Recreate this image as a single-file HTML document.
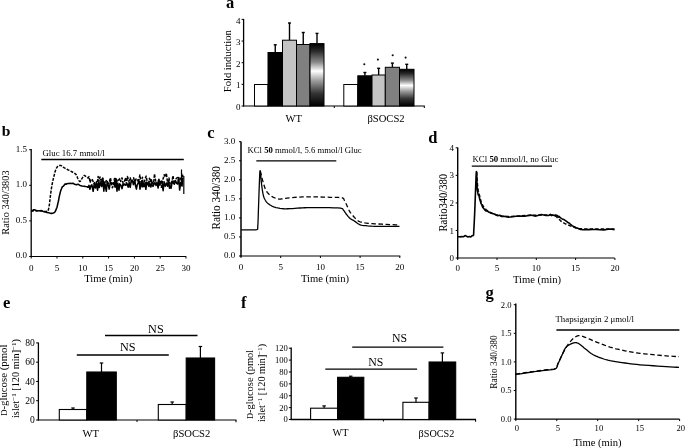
<!DOCTYPE html>
<html><head><meta charset="utf-8"><style>
html,body{margin:0;padding:0;background:#fff;}
svg{display:block;filter:grayscale(1) blur(0.3px);}
text{font-family:"Liberation Serif",serif;fill:#000;}
</style></head><body>
<svg width="685" height="448" viewBox="0 0 685 448">
<defs>
<linearGradient id="grad" x1="0" y1="0" x2="0" y2="1">
<stop offset="0" stop-color="#000"/>
<stop offset="0.12" stop-color="#2a2a2a"/>
<stop offset="0.3" stop-color="#8a8a8a"/>
<stop offset="0.44" stop-color="#fff"/>
<stop offset="0.6" stop-color="#9a9a9a"/>
<stop offset="0.8" stop-color="#333"/>
<stop offset="1" stop-color="#000"/>
</linearGradient>
</defs>
<rect width="685" height="448" fill="#fff"/>
<text x="226" y="7.6" font-size="16.5" text-anchor="start" font-weight="bold">a</text>
<line x1="243.6" y1="18.9" x2="243.6" y2="106.5" stroke="#000" stroke-width="1.3"/>
<line x1="243.1" y1="106.0" x2="424.8" y2="106.0" stroke="#000" stroke-width="1.2"/>
<line x1="241.6" y1="106.0" x2="243.6" y2="106.0" stroke="#000" stroke-width="1"/>
<text x="240.6" y="110.1" font-size="9" text-anchor="end">0</text>
<line x1="241.6" y1="84.35" x2="243.6" y2="84.35" stroke="#000" stroke-width="1"/>
<text x="240.6" y="88.44999999999999" font-size="9" text-anchor="end">1</text>
<line x1="241.6" y1="62.7" x2="243.6" y2="62.7" stroke="#000" stroke-width="1"/>
<text x="240.6" y="66.8" font-size="9" text-anchor="end">2</text>
<line x1="241.6" y1="41.05000000000001" x2="243.6" y2="41.05000000000001" stroke="#000" stroke-width="1"/>
<text x="240.6" y="45.15000000000001" font-size="9" text-anchor="end">3</text>
<line x1="241.6" y1="19.400000000000006" x2="243.6" y2="19.400000000000006" stroke="#000" stroke-width="1"/>
<text x="240.6" y="23.500000000000007" font-size="9" text-anchor="end">4</text>
<line x1="334.3" y1="106.0" x2="334.3" y2="108.0" stroke="#000" stroke-width="1"/>
<line x1="424.3" y1="106.0" x2="424.3" y2="108.0" stroke="#000" stroke-width="1"/>
<text x="231.5" y="61.2" font-size="10.6" text-anchor="middle" transform="rotate(-90 231.5 61.2)">Fold induction</text>
<line x1="275.25" y1="52.5" x2="275.25" y2="44.8" stroke="#000" stroke-width="1.4"/>
<line x1="273.75" y1="44.8" x2="276.75" y2="44.8" stroke="#000" stroke-width="1.4"/>
<line x1="289.5" y1="40.2" x2="289.5" y2="23.0" stroke="#000" stroke-width="1.4"/>
<line x1="288.0" y1="23.0" x2="291.0" y2="23.0" stroke="#000" stroke-width="1.4"/>
<line x1="303.25" y1="44.5" x2="303.25" y2="32.5" stroke="#000" stroke-width="1.4"/>
<line x1="301.75" y1="32.5" x2="304.75" y2="32.5" stroke="#000" stroke-width="1.4"/>
<line x1="317.0" y1="43.6" x2="317.0" y2="33.4" stroke="#000" stroke-width="1.4"/>
<line x1="315.5" y1="33.4" x2="318.5" y2="33.4" stroke="#000" stroke-width="1.4"/>
<line x1="364.9" y1="75.8" x2="364.9" y2="72.5" stroke="#000" stroke-width="1.4"/>
<line x1="363.4" y1="72.5" x2="366.4" y2="72.5" stroke="#000" stroke-width="1.4"/>
<line x1="378.65" y1="75" x2="378.65" y2="68.3" stroke="#000" stroke-width="1.4"/>
<line x1="377.15" y1="68.3" x2="380.15" y2="68.3" stroke="#000" stroke-width="1.4"/>
<line x1="392.4" y1="67.3" x2="392.4" y2="63.1" stroke="#000" stroke-width="1.4"/>
<line x1="390.9" y1="63.1" x2="393.9" y2="63.1" stroke="#000" stroke-width="1.4"/>
<line x1="406.75" y1="69.3" x2="406.75" y2="64.3" stroke="#000" stroke-width="1.4"/>
<line x1="405.25" y1="64.3" x2="408.25" y2="64.3" stroke="#000" stroke-width="1.4"/>
<rect x="254.5" y="84.5" width="13.5" height="21.5" fill="#fff" stroke="#000" stroke-width="1.0"/>
<rect x="268" y="52.5" width="14.5" height="53.5" fill="#000" stroke="#000" stroke-width="1.0"/>
<rect x="282.5" y="40.2" width="14.0" height="65.8" fill="#c4c4c4" stroke="#000" stroke-width="1.0"/>
<rect x="296.5" y="44.5" width="13.5" height="61.5" fill="#808080" stroke="#000" stroke-width="1.0"/>
<rect x="310" y="43.6" width="14" height="62.4" fill="url(#grad)" stroke="#000" stroke-width="1.0"/>
<rect x="343.8" y="84.5" width="14.0" height="21.5" fill="#fff" stroke="#000" stroke-width="1.0"/>
<rect x="357.8" y="75.8" width="14.199999999999989" height="30.200000000000003" fill="#000" stroke="#000" stroke-width="1.0"/>
<rect x="372" y="75" width="13.300000000000011" height="31.0" fill="#c4c4c4" stroke="#000" stroke-width="1.0"/>
<rect x="385.3" y="67.3" width="14.199999999999989" height="38.7" fill="#808080" stroke="#000" stroke-width="1.0"/>
<rect x="399.5" y="69.3" width="14.5" height="36.7" fill="url(#grad)" stroke="#000" stroke-width="1.0"/>
<circle cx="364.3" cy="64.3" r="1.05" fill="#111"/>
<circle cx="377.9" cy="59.6" r="1.05" fill="#111"/>
<circle cx="392.7" cy="55.3" r="1.05" fill="#111"/>
<circle cx="405.6" cy="57.6" r="1.05" fill="#111"/>
<text x="293.7" y="122.3" font-size="10.6" text-anchor="middle">WT</text>
<text x="386" y="122.3" font-size="10.6" text-anchor="middle">&#946;SOCS2</text>
<text x="1.7" y="135.5" font-size="15.5" text-anchor="start" font-weight="bold">b</text>
<line x1="31.2" y1="149.0" x2="31.2" y2="257.0" stroke="#000" stroke-width="1.3"/>
<line x1="30.7" y1="256.5" x2="186.2" y2="256.5" stroke="#000" stroke-width="1.1"/>
<line x1="29.2" y1="256.5" x2="31.2" y2="256.5" stroke="#000" stroke-width="1"/>
<text x="27" y="258.4" font-size="9" text-anchor="end">0.0</text>
<line x1="29.2" y1="220.9" x2="31.2" y2="220.9" stroke="#000" stroke-width="1"/>
<text x="27" y="222.8" font-size="9" text-anchor="end">0.5</text>
<line x1="29.2" y1="185.3" x2="31.2" y2="185.3" stroke="#000" stroke-width="1"/>
<text x="27" y="187.20000000000002" font-size="9" text-anchor="end">1.0</text>
<line x1="29.2" y1="149.7" x2="31.2" y2="149.7" stroke="#000" stroke-width="1"/>
<text x="27" y="151.6" font-size="9" text-anchor="end">1.5</text>
<line x1="31.2" y1="256.5" x2="31.2" y2="258.5" stroke="#000" stroke-width="1"/>
<text x="31.2" y="270.6" font-size="9" text-anchor="middle">0</text>
<line x1="57.0" y1="256.5" x2="57.0" y2="258.5" stroke="#000" stroke-width="1"/>
<text x="57.0" y="270.6" font-size="9" text-anchor="middle">5</text>
<line x1="82.8" y1="256.5" x2="82.8" y2="258.5" stroke="#000" stroke-width="1"/>
<text x="82.8" y="270.6" font-size="9" text-anchor="middle">10</text>
<line x1="108.60000000000001" y1="256.5" x2="108.60000000000001" y2="258.5" stroke="#000" stroke-width="1"/>
<text x="108.60000000000001" y="270.6" font-size="9" text-anchor="middle">15</text>
<line x1="134.4" y1="256.5" x2="134.4" y2="258.5" stroke="#000" stroke-width="1"/>
<text x="134.4" y="270.6" font-size="9" text-anchor="middle">20</text>
<line x1="160.2" y1="256.5" x2="160.2" y2="258.5" stroke="#000" stroke-width="1"/>
<text x="160.2" y="270.6" font-size="9" text-anchor="middle">25</text>
<line x1="186.0" y1="256.5" x2="186.0" y2="258.5" stroke="#000" stroke-width="1"/>
<text x="186.0" y="270.6" font-size="9" text-anchor="middle">30</text>
<text x="108.3" y="282.1" font-size="10.6" text-anchor="middle">Time (min)</text>
<text x="8.5" y="202.5" font-size="10.4" text-anchor="middle" transform="rotate(-90 8.5 202.5)">Ratio 340/3803</text>
<text x="42.5" y="155.6" font-size="8.8" text-anchor="start">Gluc 16.7 mmol/l</text>
<line x1="41.3" y1="159.5" x2="183.8" y2="159.5" stroke="#000" stroke-width="1.3"/>
<polyline points="31.00,211.35 32.00,211.18 33.44,209.89 35.00,209.80 36.63,210.72 38.37,210.71 40.00,210.80 41.44,210.62 42.78,211.29 44.00,211.63 45.04,211.98 45.96,211.88 47.00,212.52 48.28,212.62 49.67,213.07 51.00,213.39 52.26,213.39 53.46,212.91 54.50,212.43 55.30,211.38 55.93,209.91 56.50,208.43 57.04,207.20 57.52,204.99 58.00,202.86 58.48,201.04 58.96,198.01 59.50,195.57 60.13,192.83 60.81,190.34 61.50,188.79 62.15,187.11 62.80,186.43 63.50,186.10 64.28,184.98 65.11,183.85 66.00,184.27 66.93,183.78 67.91,183.43 69.00,183.49 70.22,183.33 71.56,183.51 73.00,183.22 74.56,184.30 76.22,184.70 78.00,184.19 80.00,185.45 82.11,185.98 84.00,186.15 85.63,186.53 87.04,186.67 88.00,187.31 89.00,185.32 89.92,189.24 91.00,185.48 91.85,184.74 93.15,191.31 94.23,183.74 95.31,187.72 96.46,181.86 97.56,190.17 98.62,182.64 99.34,187.43 100.47,181.99 101.69,186.56 102.87,178.33 103.84,191.24 104.60,182.06 105.38,186.62 106.34,191.29 107.22,181.43 108.13,184.92 109.18,189.00 110.40,181.83 111.69,183.76 112.97,182.93 114.01,184.17 115.06,186.97 115.80,178.42 116.98,191.16 117.77,183.07 118.99,190.24 119.72,183.86 120.85,185.30 122.08,188.61 122.96,184.10 123.71,185.28 124.65,184.07 125.72,185.12 126.94,183.71 128.22,187.17 129.19,182.52 130.20,187.34 131.28,180.90 132.54,180.87 133.38,184.63 134.67,180.20 135.38,185.01 136.42,189.10 137.16,185.01 138.14,183.05 139.26,181.53 139.98,189.13 141.26,182.48 142.23,186.86 143.12,182.71 144.04,186.71 145.20,182.70 145.92,189.34 146.75,181.97 147.93,184.45 148.89,186.47 149.66,182.93 150.86,187.01 151.82,182.97 152.91,182.60 153.88,184.49 154.90,182.50 156.08,185.34 156.95,182.35 158.13,188.04 158.91,179.37 159.79,184.89 160.69,181.54 161.64,181.07 162.44,185.80 163.14,190.61 164.10,181.66 165.37,186.25 166.52,183.01 167.72,186.19 168.63,180.53 169.46,188.16 170.33,185.90 171.06,188.32 172.30,181.02 173.54,183.50 174.34,184.23 175.44,180.49 176.70,183.40 177.61,184.04 178.78,177.42 179.60,190.03 180.77,182.55 182.02,186.07 182.73,177.93" fill="none" stroke="#000" stroke-width="1.55" stroke-linejoin="round"/>
<polyline points="31.00,210.60 32.66,210.63 35.06,210.68 37.68,210.73 40.00,210.80 42.01,210.99 43.94,211.28 45.65,211.42 47.00,211.20 47.86,210.66 48.34,209.87 48.65,208.71 49.00,207.00 49.41,204.50 49.78,201.36 50.14,198.04 50.50,195.00 50.86,192.34 51.22,189.81 51.59,187.38 52.00,185.00 52.46,182.63 52.97,180.31 53.49,178.09 54.00,176.00 54.49,174.02 54.97,172.14 55.46,170.44 56.00,169.00 56.59,167.86 57.22,166.97 57.86,166.30 58.50,165.80 59.11,165.49 59.72,165.38 60.34,165.43 61.00,165.60 61.69,165.94 62.41,166.45 63.17,167.03 64.00,167.60 64.91,168.13 65.88,168.66 66.91,169.22 68.00,169.80 69.23,170.43 70.56,171.11 71.87,171.78 73.00,172.40 73.91,172.91 74.69,173.34 75.37,173.83 76.00,174.50 76.57,175.46 77.06,176.61 77.52,177.79 78.00,178.80 78.50,179.72 79.00,180.61 79.50,181.26 80.00,181.50 80.50,181.15 81.00,180.36 81.50,179.38 82.00,178.50 82.50,177.66 83.00,176.75 83.50,175.97 84.00,175.50 84.50,175.46 85.00,175.72 85.50,176.12 86.00,176.50 86.55,176.88 87.12,177.31 87.64,177.72 88.00,178.00 89.00,176.59 90.13,182.35 91.28,179.01 92.44,179.77 93.79,183.49 94.66,182.65 95.94,187.93 97.20,183.58 98.11,176.51 99.04,181.31 100.01,176.94 101.40,181.63 102.57,178.17 103.83,184.12 104.83,187.84 106.12,180.65 107.14,181.20 107.99,183.76 109.07,182.83 110.46,177.86 111.26,182.76 112.39,187.77 113.47,185.30 114.46,178.50 115.49,186.65 116.38,179.37 117.35,181.74 118.71,179.95 119.90,178.48 120.79,181.44 122.04,177.87 123.03,183.17 124.51,181.65 125.46,177.74 126.53,183.77 127.40,176.53 128.90,181.24 130.24,177.88 131.24,181.98 132.45,179.87 133.67,177.81 134.81,183.40 136.01,179.00 137.45,178.81 138.42,182.69 139.88,175.00 141.35,184.09 142.44,177.16 143.31,187.46 144.28,182.67 145.26,178.27 146.18,176.09 147.03,181.04 148.43,184.97 149.43,178.28 150.41,181.59 151.26,178.83 152.15,183.46 153.20,187.36 154.49,173.95 155.69,180.94 156.51,181.07 157.80,181.04 158.94,180.13 160.25,186.08 161.43,187.28 162.86,179.81 164.21,174.65 165.26,177.17 166.35,173.23 167.76,184.74 168.97,177.97 170.19,184.69 171.69,182.66 173.00,175.68 174.20,183.93 175.31,180.93 176.13,178.85 177.35,177.53 178.50,180.42 179.73,177.66 180.74,178.76 181.68,183.86 182.95,173.21" fill="none" stroke="#000" stroke-width="1.5" stroke-linejoin="round" stroke-dasharray="3,1.3"/>
<line x1="181.5" y1="169.5" x2="181.5" y2="186" stroke="#000" stroke-width="1.2"/>
<line x1="183.8" y1="176" x2="183.8" y2="194" stroke="#000" stroke-width="1.2"/>
<text x="207.2" y="138.1" font-size="16.5" text-anchor="start" font-weight="bold">c</text>
<line x1="241.0" y1="141.5" x2="241.0" y2="256.5" stroke="#000" stroke-width="1.5"/>
<line x1="240.5" y1="256.0" x2="400.3" y2="256.0" stroke="#000" stroke-width="1.0"/>
<line x1="239.0" y1="256.0" x2="241.0" y2="256.0" stroke="#000" stroke-width="1"/>
<text x="235.3" y="258.2" font-size="9" text-anchor="end">0.0</text>
<line x1="239.0" y1="236.95" x2="241.0" y2="236.95" stroke="#000" stroke-width="1"/>
<text x="235.3" y="239.14999999999998" font-size="9" text-anchor="end">0.5</text>
<line x1="239.0" y1="217.9" x2="241.0" y2="217.9" stroke="#000" stroke-width="1"/>
<text x="235.3" y="220.1" font-size="9" text-anchor="end">1.0</text>
<line x1="239.0" y1="198.85" x2="241.0" y2="198.85" stroke="#000" stroke-width="1"/>
<text x="235.3" y="201.04999999999998" font-size="9" text-anchor="end">1.5</text>
<line x1="239.0" y1="179.8" x2="241.0" y2="179.8" stroke="#000" stroke-width="1"/>
<text x="235.3" y="182.0" font-size="9" text-anchor="end">2.0</text>
<line x1="239.0" y1="160.75" x2="241.0" y2="160.75" stroke="#000" stroke-width="1"/>
<text x="235.3" y="162.95" font-size="9" text-anchor="end">2.5</text>
<line x1="239.0" y1="141.7" x2="241.0" y2="141.7" stroke="#000" stroke-width="1"/>
<text x="235.3" y="143.89999999999998" font-size="9" text-anchor="end">3.0</text>
<line x1="241.0" y1="256.0" x2="241.0" y2="258.0" stroke="#000" stroke-width="1"/>
<text x="241.0" y="269.6" font-size="9" text-anchor="middle">0</text>
<line x1="280.7" y1="256.0" x2="280.7" y2="258.0" stroke="#000" stroke-width="1"/>
<text x="280.7" y="269.6" font-size="9" text-anchor="middle">5</text>
<line x1="320.4" y1="256.0" x2="320.4" y2="258.0" stroke="#000" stroke-width="1"/>
<text x="320.4" y="269.6" font-size="9" text-anchor="middle">10</text>
<line x1="360.1" y1="256.0" x2="360.1" y2="258.0" stroke="#000" stroke-width="1"/>
<text x="360.1" y="269.6" font-size="9" text-anchor="middle">15</text>
<line x1="399.8" y1="256.0" x2="399.8" y2="258.0" stroke="#000" stroke-width="1"/>
<text x="399.8" y="269.6" font-size="9" text-anchor="middle">20</text>
<text x="325" y="282.3" font-size="10.6" text-anchor="middle">Time (min)</text>
<text x="220.4" y="197.8" font-size="12.6" text-anchor="middle" transform="rotate(-90 220.4 197.8)" textLength="63.3" lengthAdjust="spacingAndGlyphs">Ratio 340/380</text>
<text x="247.5" y="153.2" font-size="8.7" text-anchor="start">KCl <tspan font-weight="bold">50</tspan> mmol/l, 5.6 mmol/l Gluc</text>
<line x1="256.3" y1="160.9" x2="336.3" y2="160.9" stroke="#000" stroke-width="1.3"/>
<polyline points="241.20,229.90 242.83,229.88 245.17,229.86 247.73,229.83 250.00,229.80 251.98,229.84 253.89,229.92 255.55,229.89 256.80,229.60 257.46,229.35 257.68,229.10 257.70,228.20 257.80,226.00 258.02,221.95 258.22,216.53 258.41,210.59 258.60,205.00 258.78,199.79 258.96,194.58 259.13,189.57 259.30,185.00 259.47,180.59 259.64,176.32 259.82,172.85 260.00,170.80 260.19,170.64 260.39,171.93 260.59,173.95 260.80,176.00 261.00,178.04 261.19,180.39 261.42,182.90 261.70,185.40 262.06,188.02 262.47,190.78 262.93,193.40 263.40,195.60 263.89,197.25 264.42,198.52 264.96,199.55 265.50,200.50 266.02,201.34 266.52,202.01 267.07,202.60 267.70,203.20 268.45,203.82 269.27,204.42 270.14,204.98 271.00,205.50 271.74,205.95 272.43,206.35 273.25,206.72 274.40,207.10 276.00,207.51 277.91,207.94 279.97,208.33 282.00,208.60 283.92,208.74 285.85,208.79 287.85,208.76 290.00,208.70 292.36,208.57 294.88,208.38 297.45,208.17 300.00,208.00 302.38,207.87 304.69,207.76 307.15,207.66 310.00,207.60 313.38,207.56 317.15,207.54 321.09,207.55 325.00,207.60 329.16,207.68 333.56,207.78 337.59,207.94 340.60,208.20 342.20,208.54 342.80,208.94 343.00,209.45 343.40,210.10 344.07,210.92 344.73,211.89 345.42,212.94 346.20,214.00 347.10,215.14 348.08,216.36 349.10,217.52 350.10,218.50 351.04,219.17 351.94,219.64 352.91,220.08 354.00,220.70 355.27,221.62 356.66,222.72 358.12,223.78 359.60,224.60 361.02,225.08 362.44,225.36 363.97,225.53 365.70,225.70 367.58,225.90 369.57,226.06 371.85,226.20 374.60,226.30 378.13,226.36 382.26,226.39 386.41,226.40 390.00,226.40 393.01,226.39 395.71,226.36 397.93,226.32 399.50,226.30" fill="none" stroke="#000" stroke-width="1.3" stroke-linejoin="round"/>
<polyline points="260.30,171.00 260.47,171.69 260.72,172.67 261.01,173.81 261.30,175.00 261.60,176.23 261.91,177.56 262.25,178.93 262.60,180.30 262.97,181.68 263.37,183.09 263.78,184.48 264.20,185.80 264.61,187.06 265.02,188.28 265.47,189.43 266.00,190.50 266.62,191.49 267.32,192.39 268.06,193.23 268.80,194.00 269.55,194.70 270.33,195.32 271.12,195.88 271.90,196.40 272.66,196.87 273.41,197.29 274.18,197.66 275.00,198.00 275.87,198.32 276.77,198.61 277.72,198.85 278.70,199.00 279.74,199.05 280.82,199.01 281.92,198.91 283.00,198.80 283.92,198.66 284.74,198.49 285.74,198.30 287.20,198.10 289.30,197.88 291.84,197.63 294.59,197.39 297.30,197.20 299.90,197.05 302.53,196.93 305.22,196.85 308.00,196.80 310.89,196.80 313.86,196.85 316.90,196.92 320.00,197.00 323.27,197.09 326.67,197.19 329.99,197.30 333.00,197.40 335.75,197.44 338.33,197.45 340.56,197.53 342.30,197.80 343.35,198.29 343.84,198.94 344.12,199.72 344.50,200.60 345.04,201.57 345.56,202.64 346.11,203.82 346.70,205.10 347.33,206.54 347.99,208.12 348.71,209.71 349.50,211.20 350.38,212.55 351.34,213.83 352.36,215.05 353.40,216.25 354.48,217.47 355.61,218.68 356.76,219.79 357.90,220.70 359.00,221.34 360.08,221.77 361.20,222.10 362.40,222.40 363.70,222.69 365.07,222.93 366.50,223.12 368.00,223.30 369.37,223.45 370.69,223.56 372.31,223.66 374.60,223.80 377.97,223.99 382.12,224.21 386.36,224.43 390.00,224.60 393.01,224.72 395.71,224.80 397.93,224.86 399.50,224.90" fill="none" stroke="#000" stroke-width="1.3" stroke-linejoin="round" stroke-dasharray="4.5,2.6"/>
<text x="428.3" y="142.8" font-size="16.5" text-anchor="start" font-weight="bold">d</text>
<line x1="457.7" y1="147.5" x2="457.7" y2="258.5" stroke="#000" stroke-width="1.4"/>
<line x1="457.2" y1="258.0" x2="614.8" y2="258.0" stroke="#000" stroke-width="1.0"/>
<line x1="455.7" y1="258.0" x2="457.7" y2="258.0" stroke="#000" stroke-width="1"/>
<text x="454" y="261.1" font-size="9" text-anchor="end">0</text>
<line x1="455.7" y1="230.45" x2="457.7" y2="230.45" stroke="#000" stroke-width="1"/>
<text x="454" y="233.54999999999998" font-size="9" text-anchor="end">1</text>
<line x1="455.7" y1="202.9" x2="457.7" y2="202.9" stroke="#000" stroke-width="1"/>
<text x="454" y="206.0" font-size="9" text-anchor="end">2</text>
<line x1="455.7" y1="175.35" x2="457.7" y2="175.35" stroke="#000" stroke-width="1"/>
<text x="454" y="178.45" font-size="9" text-anchor="end">3</text>
<line x1="455.7" y1="147.8" x2="457.7" y2="147.8" stroke="#000" stroke-width="1"/>
<text x="454" y="150.9" font-size="9" text-anchor="end">4</text>
<line x1="457.7" y1="258.0" x2="457.7" y2="260.0" stroke="#000" stroke-width="1"/>
<text x="457.7" y="270.8" font-size="9" text-anchor="middle">0</text>
<line x1="497.0" y1="258.0" x2="497.0" y2="260.0" stroke="#000" stroke-width="1"/>
<text x="497.0" y="270.8" font-size="9" text-anchor="middle">5</text>
<line x1="536.3" y1="258.0" x2="536.3" y2="260.0" stroke="#000" stroke-width="1"/>
<text x="536.3" y="270.8" font-size="9" text-anchor="middle">10</text>
<line x1="575.6" y1="258.0" x2="575.6" y2="260.0" stroke="#000" stroke-width="1"/>
<text x="575.6" y="270.8" font-size="9" text-anchor="middle">15</text>
<line x1="614.9" y1="258.0" x2="614.9" y2="260.0" stroke="#000" stroke-width="1"/>
<text x="614.9" y="270.8" font-size="9" text-anchor="middle">20</text>
<text x="537" y="282.5" font-size="10.6" text-anchor="middle">Time (min)</text>
<text x="447.3" y="202.7" font-size="12.2" text-anchor="middle" transform="rotate(-90 447.3 202.7)" textLength="57.6" lengthAdjust="spacingAndGlyphs">Ratio340/380</text>
<text x="472.5" y="162.3" font-size="8.8" text-anchor="start">KCl <tspan font-weight="bold">50</tspan> mmol/l, no Gluc</text>
<line x1="471.8" y1="166.2" x2="552" y2="166.2" stroke="#000" stroke-width="1.3"/>
<polyline points="457.40,236.57 458.19,236.70 459.32,236.71 460.64,236.85 462.00,236.54 463.43,236.81 464.98,235.61 466.54,236.26 468.00,236.92 469.40,236.53 470.77,236.92 471.98,235.70 472.90,235.76 473.40,235.04 473.58,235.06 473.65,233.89 473.80,230.32 474.07,225.77 474.37,219.50 474.68,213.12 475.00,205.37 475.35,195.41 475.72,185.77 476.08,175.72 476.40,171.46 476.64,172.06 476.82,177.45 477.02,185.49 477.30,189.59 477.67,191.99 478.09,194.44 478.57,195.35 479.10,196.01 479.67,199.07 480.29,200.87 480.98,203.42 481.80,204.79 482.74,207.44 483.77,208.45 484.93,210.03 486.20,211.05 487.62,211.28 489.18,212.32 490.82,212.90 492.50,213.60 494.17,214.09 495.88,214.89 497.67,215.70 499.60,215.20 501.54,216.48 503.52,216.29 505.79,216.46 508.60,217.25 512.08,216.67 516.06,216.20 520.42,216.13 525.00,216.19 530.21,215.05 535.97,216.10 541.45,214.56 545.80,215.45 548.62,215.55 550.42,214.42 551.71,215.58 553.00,215.11 554.34,215.57 555.48,214.97 556.51,215.27 557.50,215.75 558.40,217.16 559.18,216.46 560.00,217.48 561.00,218.16 562.25,218.90 563.67,219.41 565.15,220.35 566.60,221.41 568.01,222.58 569.44,223.26 570.84,224.71 572.20,225.68 573.51,226.52 574.78,226.75 576.01,227.93 577.20,227.95 578.32,228.53 579.38,229.01 580.43,229.44 581.50,229.30 582.39,229.82 583.14,229.71 584.20,229.65 586.00,229.69 588.82,229.60 592.38,229.48 596.24,229.45 600.00,229.71 603.93,229.84 608.12,229.28 611.88,229.17 614.50,229.69" fill="none" stroke="#000" stroke-width="1.6" stroke-linejoin="round"/>
<polyline points="476.60,172.00 476.80,175.07 477.09,179.53 477.44,184.22 477.80,188.00 478.17,190.45 478.57,192.22 479.01,193.75 479.50,195.50 480.03,197.62 480.59,199.86 481.24,202.04 482.00,204.00 482.88,205.69 483.86,207.20 484.96,208.56 486.20,209.80 487.61,210.91 489.17,211.89 490.82,212.74 492.50,213.50 494.17,214.14 495.88,214.66 497.67,215.10 499.60,215.50 501.54,215.89 503.52,216.24 505.79,216.49 508.60,216.60 512.08,216.49 516.06,216.21 520.42,215.88 525.00,215.60 530.21,215.38 535.97,215.17 541.45,215.00 545.80,214.90 548.65,214.88 550.51,214.93 551.81,215.03 553.00,215.20 554.05,215.43 554.77,215.71 555.36,216.07 556.00,216.50 556.70,217.02 557.36,217.63 558.05,218.30 558.80,219.00 559.60,219.76 560.42,220.59 561.34,221.42 562.40,222.20 563.63,222.91 564.99,223.58 566.46,224.24 568.00,224.90 569.68,225.61 571.48,226.35 573.27,227.04 574.90,227.60 576.28,228.00 577.51,228.29 578.70,228.51 580.00,228.70 581.25,228.86 582.44,228.97 583.92,229.05 586.00,229.10 588.93,229.11 592.47,229.08 596.28,229.03 600.00,229.00 603.93,228.99 608.12,228.99 611.88,229.00 614.50,229.00" fill="none" stroke="#000" stroke-width="1.5" stroke-linejoin="round" stroke-dasharray="3.5,2"/>
<text x="3" y="307.5" font-size="16.5" text-anchor="start" font-weight="bold">e</text>
<line x1="38.4" y1="342.5" x2="38.4" y2="420.5" stroke="#000" stroke-width="1.3"/>
<line x1="37.9" y1="420" x2="236.4" y2="420" stroke="#000" stroke-width="1.2"/>
<line x1="236" y1="420" x2="236" y2="422.3" stroke="#000" stroke-width="1.1"/>
<line x1="36.1" y1="420.0" x2="38.4" y2="420.0" stroke="#000" stroke-width="1"/>
<text x="34.9" y="423.1" font-size="9.6" text-anchor="end">0</text>
<line x1="36.1" y1="400.73" x2="38.4" y2="400.73" stroke="#000" stroke-width="1"/>
<text x="34.9" y="403.83000000000004" font-size="9.6" text-anchor="end">20</text>
<line x1="36.1" y1="381.46" x2="38.4" y2="381.46" stroke="#000" stroke-width="1"/>
<text x="34.9" y="384.56" font-size="9.6" text-anchor="end">40</text>
<line x1="36.1" y1="362.19" x2="38.4" y2="362.19" stroke="#000" stroke-width="1"/>
<text x="34.9" y="365.29" font-size="9.6" text-anchor="end">60</text>
<line x1="36.1" y1="342.92" x2="38.4" y2="342.92" stroke="#000" stroke-width="1"/>
<text x="34.9" y="346.02000000000004" font-size="9.6" text-anchor="end">80</text>
<line x1="137" y1="420" x2="137" y2="422" stroke="#000" stroke-width="1"/>
<text x="7.3" y="380.2" font-size="10.8" text-anchor="middle" transform="rotate(-90 7.3 380.2)"><tspan font-size="0.8em">D</tspan>-glucose (pmol</text>
<text x="19.3" y="378.5" font-size="10.3" text-anchor="middle" transform="rotate(-90 19.3 378.5)">islet<tspan dy="-3.5" font-size="7">&#8722;1</tspan><tspan dy="3.5"> [120 min]</tspan><tspan dy="-3.5" font-size="7">&#8722;1</tspan><tspan dy="3.5">)</tspan></text>
<line x1="73" y1="409.5" x2="73" y2="408" stroke="#000" stroke-width="1.2"/>
<line x1="71.25" y1="408" x2="74.75" y2="408" stroke="#000" stroke-width="1.2"/>
<line x1="101.5" y1="372" x2="101.5" y2="363" stroke="#000" stroke-width="1.2"/>
<line x1="99.75" y1="363" x2="103.25" y2="363" stroke="#000" stroke-width="1.2"/>
<line x1="172.2" y1="404.5" x2="172.2" y2="402" stroke="#000" stroke-width="1.2"/>
<line x1="170.45" y1="402" x2="173.95" y2="402" stroke="#000" stroke-width="1.2"/>
<line x1="200.4" y1="358" x2="200.4" y2="346.5" stroke="#000" stroke-width="1.2"/>
<line x1="198.65" y1="346.5" x2="202.15" y2="346.5" stroke="#000" stroke-width="1.2"/>
<rect x="59.3" y="409.5" width="27.5" height="10.5" fill="#fff" stroke="#000" stroke-width="1.1"/>
<rect x="86.8" y="372" width="29.5" height="48" fill="#000" stroke="#000" stroke-width="1.1"/>
<rect x="158.3" y="404.5" width="27.899999999999977" height="15.5" fill="#fff" stroke="#000" stroke-width="1.1"/>
<rect x="186.2" y="358" width="28.400000000000006" height="62" fill="#000" stroke="#000" stroke-width="1.1"/>
<line x1="76.8" y1="355" x2="168.8" y2="355" stroke="#000" stroke-width="1.3"/>
<line x1="105" y1="335.5" x2="197.5" y2="335.5" stroke="#000" stroke-width="1.3"/>
<text x="127.8" y="351.3" font-size="12.2" text-anchor="middle">NS</text>
<text x="155.9" y="332.5" font-size="12.2" text-anchor="middle">NS</text>
<text x="90.7" y="436.5" font-size="10.6" text-anchor="middle">WT</text>
<text x="191.6" y="437.3" font-size="10.6" text-anchor="middle">&#946;SOCS2</text>
<text x="241" y="307.5" font-size="16.5" text-anchor="start" font-weight="bold">f</text>
<line x1="291.2" y1="347.5" x2="291.2" y2="420.0" stroke="#000" stroke-width="1.3"/>
<line x1="290.7" y1="419.5" x2="476" y2="419.5" stroke="#000" stroke-width="1.3"/>
<line x1="475.6" y1="419.5" x2="475.6" y2="421.8" stroke="#000" stroke-width="1.1"/>
<line x1="288.9" y1="419.5" x2="291.2" y2="419.5" stroke="#000" stroke-width="1"/>
<text x="287.8" y="422.4" font-size="8.6" text-anchor="end">0</text>
<line x1="288.9" y1="407.62" x2="291.2" y2="407.62" stroke="#000" stroke-width="1"/>
<text x="287.8" y="410.52" font-size="8.6" text-anchor="end">20</text>
<line x1="288.9" y1="395.74" x2="291.2" y2="395.74" stroke="#000" stroke-width="1"/>
<text x="287.8" y="398.64" font-size="8.6" text-anchor="end">40</text>
<line x1="288.9" y1="383.86" x2="291.2" y2="383.86" stroke="#000" stroke-width="1"/>
<text x="287.8" y="386.76" font-size="8.6" text-anchor="end">60</text>
<line x1="288.9" y1="371.98" x2="291.2" y2="371.98" stroke="#000" stroke-width="1"/>
<text x="287.8" y="374.88" font-size="8.6" text-anchor="end">80</text>
<line x1="288.9" y1="360.1" x2="291.2" y2="360.1" stroke="#000" stroke-width="1"/>
<text x="287.8" y="363.0" font-size="8.6" text-anchor="end">100</text>
<line x1="288.9" y1="348.22" x2="291.2" y2="348.22" stroke="#000" stroke-width="1"/>
<text x="287.8" y="351.12" font-size="8.6" text-anchor="end">120</text>
<line x1="383.4" y1="419.5" x2="383.4" y2="421.5" stroke="#000" stroke-width="1"/>
<text x="253.3" y="384.4" font-size="10.5" text-anchor="middle" transform="rotate(-90 253.3 384.4)"><tspan font-size="0.8em">D</tspan>-glucose (pmol</text>
<text x="265.4" y="383.0" font-size="10.2" text-anchor="middle" transform="rotate(-90 265.4 383.0)">islet<tspan dy="-3.4" font-size="6.9">&#8722;1</tspan><tspan dy="3.4"> [120 min]</tspan><tspan dy="-3.4" font-size="6.9">&#8722;1</tspan><tspan dy="3.4">)</tspan></text>
<line x1="324.1" y1="408.2" x2="324.1" y2="405.9" stroke="#000" stroke-width="1.2"/>
<line x1="322.35" y1="405.9" x2="325.85" y2="405.9" stroke="#000" stroke-width="1.2"/>
<line x1="350.7" y1="377.3" x2="350.7" y2="376.2" stroke="#000" stroke-width="1.2"/>
<line x1="348.95" y1="376.2" x2="352.45" y2="376.2" stroke="#000" stroke-width="1.2"/>
<line x1="416" y1="402.3" x2="416" y2="398" stroke="#000" stroke-width="1.2"/>
<line x1="414.25" y1="398" x2="417.75" y2="398" stroke="#000" stroke-width="1.2"/>
<line x1="442.4" y1="362" x2="442.4" y2="352.9" stroke="#000" stroke-width="1.2"/>
<line x1="440.65" y1="352.9" x2="444.15" y2="352.9" stroke="#000" stroke-width="1.2"/>
<rect x="310.6" y="408.2" width="27.0" height="11.300000000000011" fill="#fff" stroke="#000" stroke-width="1.1"/>
<rect x="337.6" y="377.3" width="26.19999999999999" height="42.19999999999999" fill="#000" stroke="#000" stroke-width="1.1"/>
<rect x="402.9" y="402.3" width="26.200000000000045" height="17.19999999999999" fill="#fff" stroke="#000" stroke-width="1.1"/>
<rect x="429.1" y="362" width="26.599999999999966" height="57.5" fill="#000" stroke="#000" stroke-width="1.1"/>
<line x1="325.3" y1="369.2" x2="417.1" y2="369.2" stroke="#000" stroke-width="1.3"/>
<line x1="352.2" y1="347.1" x2="443.4" y2="347.1" stroke="#000" stroke-width="1.3"/>
<text x="375.7" y="365.7" font-size="11.8" text-anchor="middle">NS</text>
<text x="399.6" y="342.3" font-size="11.8" text-anchor="middle">NS</text>
<text x="340.5" y="435.8" font-size="10.2" text-anchor="middle">WT</text>
<text x="436.5" y="437.3" font-size="10.2" text-anchor="middle">&#946;SOCS2</text>
<text x="485.5" y="298.3" font-size="16.5" text-anchor="start" font-weight="bold">g</text>
<line x1="515.8" y1="303.6" x2="515.8" y2="419.6" stroke="#000" stroke-width="1.4"/>
<line x1="515.3" y1="419.1" x2="679.5" y2="419.1" stroke="#000" stroke-width="1.1"/>
<line x1="513.8" y1="419.1" x2="515.8" y2="419.1" stroke="#000" stroke-width="1"/>
<text x="511.6" y="421.90000000000003" font-size="8.6" text-anchor="end">0.0</text>
<line x1="513.8" y1="390.5" x2="515.8" y2="390.5" stroke="#000" stroke-width="1"/>
<text x="511.6" y="393.3" font-size="8.6" text-anchor="end">0.5</text>
<line x1="513.8" y1="361.90000000000003" x2="515.8" y2="361.90000000000003" stroke="#000" stroke-width="1"/>
<text x="511.6" y="364.70000000000005" font-size="8.6" text-anchor="end">1.0</text>
<line x1="513.8" y1="333.3" x2="515.8" y2="333.3" stroke="#000" stroke-width="1"/>
<text x="511.6" y="336.1" font-size="8.6" text-anchor="end">1.5</text>
<line x1="513.8" y1="304.70000000000005" x2="515.8" y2="304.70000000000005" stroke="#000" stroke-width="1"/>
<text x="511.6" y="307.50000000000006" font-size="8.6" text-anchor="end">2.0</text>
<line x1="515.8" y1="419.1" x2="515.8" y2="421.1" stroke="#000" stroke-width="1"/>
<text x="517.0" y="431.2" font-size="8.6" text-anchor="middle">0</text>
<line x1="556.75" y1="419.1" x2="556.75" y2="421.1" stroke="#000" stroke-width="1"/>
<text x="557.95" y="431.2" font-size="8.6" text-anchor="middle">5</text>
<line x1="597.6999999999999" y1="419.1" x2="597.6999999999999" y2="421.1" stroke="#000" stroke-width="1"/>
<text x="598.9" y="431.2" font-size="8.6" text-anchor="middle">10</text>
<line x1="638.65" y1="419.1" x2="638.65" y2="421.1" stroke="#000" stroke-width="1"/>
<text x="639.85" y="431.2" font-size="8.6" text-anchor="middle">15</text>
<line x1="679.5999999999999" y1="419.1" x2="679.5999999999999" y2="421.1" stroke="#000" stroke-width="1"/>
<text x="680.8" y="431.2" font-size="8.6" text-anchor="middle">20</text>
<text x="597.5" y="445.6" font-size="10.6" text-anchor="middle">Time (min)</text>
<text x="497.3" y="362" font-size="10.2" text-anchor="middle" transform="rotate(-90 497.3 362)" textLength="53.5" lengthAdjust="spacingAndGlyphs">Ratio 340/380</text>
<text x="555.5" y="322.3" font-size="8.8" text-anchor="start">Thapsigargin 2 &#956;mol/l</text>
<line x1="556.4" y1="330" x2="679.4" y2="330" stroke="#000" stroke-width="1.3"/>
<polyline points="515.60,374.50 517.55,374.20 520.29,373.77 523.51,373.27 526.85,372.76 530.00,372.30 533.04,371.88 536.18,371.46 539.30,371.05 542.28,370.66 545.00,370.30 547.50,370.02 549.88,369.81 552.04,369.59 553.91,369.28 555.40,368.80 556.37,368.15 556.87,367.38 557.13,366.50 557.36,365.47 557.80,364.30 558.46,362.92 559.19,361.35 559.96,359.67 560.74,357.96 561.50,356.30 562.23,354.63 562.95,352.89 563.68,351.18 564.42,349.62 565.20,348.30 566.00,347.27 566.82,346.47 567.66,345.82 568.55,345.25 569.50,344.70 570.54,344.13 571.67,343.58 572.83,343.12 573.96,342.77 575.00,342.60 575.91,342.60 576.72,342.74 577.50,343.01 578.34,343.43 579.30,344.00 580.40,344.76 581.59,345.72 582.85,346.79 584.16,347.91 585.50,349.00 586.87,350.10 588.28,351.25 589.73,352.41 591.24,353.51 592.80,354.50 594.44,355.38 596.15,356.17 597.90,356.90 599.66,357.57 601.40,358.20 603.02,358.76 604.53,359.25 606.10,359.70 607.87,360.14 610.00,360.60 612.59,361.09 615.54,361.59 618.69,362.08 621.90,362.56 625.00,363.00 627.89,363.40 630.66,363.78 633.50,364.13 636.55,364.47 640.00,364.80 644.03,365.13 648.54,365.44 653.22,365.74 657.81,366.03 662.00,366.30 665.99,366.56 669.98,366.82 673.66,367.06 676.77,367.26 679.00,367.40" fill="none" stroke="#000" stroke-width="1.3" stroke-linejoin="round"/>
<polyline points="515.60,374.20 517.55,373.90 520.29,373.47 523.51,372.97 526.85,372.46 530.00,372.00 533.04,371.58 536.18,371.16 539.30,370.75 542.28,370.36 545.00,370.00 547.50,369.72 549.87,369.53 552.02,369.33 553.89,369.02 555.40,368.50 556.40,367.76 556.96,366.87 557.27,365.85 557.55,364.72 558.00,363.50 558.65,362.13 559.35,360.60 560.09,359.00 560.81,357.43 561.50,356.00 562.14,354.73 562.75,353.55 563.36,352.43 563.97,351.33 564.60,350.20 565.24,349.05 565.88,347.90 566.54,346.75 567.24,345.62 568.00,344.50 568.85,343.36 569.77,342.20 570.72,341.07 571.68,340.02 572.60,339.10 573.49,338.30 574.38,337.60 575.24,336.99 576.09,336.49 576.90,336.10 577.62,335.83 578.27,335.67 578.91,335.62 579.62,335.66 580.50,335.80 581.54,336.04 582.68,336.39 583.92,336.83 585.26,337.34 586.70,337.90 588.17,338.51 589.67,339.18 591.31,339.91 593.15,340.72 595.30,341.60 597.84,342.61 600.73,343.76 603.81,344.94 606.94,346.09 610.00,347.10 612.98,347.97 615.98,348.77 618.99,349.49 622.00,350.17 625.00,350.80 627.89,351.38 630.66,351.90 633.50,352.38 636.55,352.84 640.00,353.30 644.03,353.78 648.54,354.25 653.22,354.71 657.81,355.13 662.00,355.50 665.99,355.82 669.98,356.11 673.66,356.35 676.77,356.55 679.00,356.70" fill="none" stroke="#000" stroke-width="1.3" stroke-linejoin="round" stroke-dasharray="4.5,2.6"/>
</svg>
</body></html>
